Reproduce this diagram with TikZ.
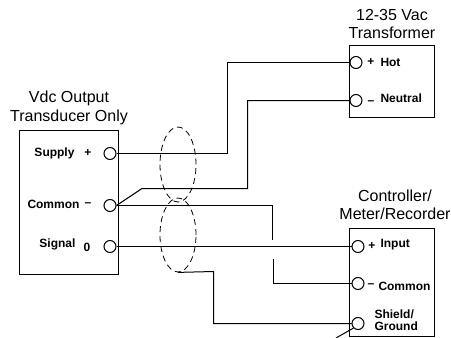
\documentclass[tikz,border=0pt]{standalone}
\usepackage{fontspec}
\setmainfont{Liberation Sans}
\usetikzlibrary{shapes.geometric,positioning}

\begin{document}
\begin{tikzpicture}[x=1pt,y=-1pt,line width=1pt,
  devbox/.style={draw,minimum width=#1,inner sep=0pt},
  term/.style={draw,circle,minimum size=12pt,inner sep=0pt},
  title/.style={font=\fontsize{16}{18.5}\selectfont,align=center,inner sep=0pt},
  lab/.style={font=\fontsize{12}{12}\bfseries\selectfont,inner sep=0pt},
  shield/.style={draw,dashed,dash pattern=on 6pt off 4pt,ellipse,minimum width=36pt,inner sep=0pt,line width=0.8pt}]

  \useasboundingbox (0,0) rectangle (451,338);

  % boxes
  \node[devbox=99pt,minimum height=144pt] (trans) at (68.5,202.5) {};
  \node[devbox=85pt,minimum height=72pt] (xfmr) at (391.5,81.5) {};
  \node[devbox=85pt,minimum height=108pt] (ctrl) at (391.5,282.5) {};

  % titles
  \node[title] (transtitle) at (69,108) {Vdc Output\\Transducer Only};
  \node[title] (xfmrtitle) at (392,24) {12-35 Vac\\Transformer};
  \node[title] (ctrltitle) at (395,205) {Controller/\\Meter/Recorder};

  % terminals
  \node[term] (supply) at (110,153.5) {};
  \node[term] (common) at (110,205.5) {};
  \node[term] (signal) at (110,246.5) {};
  \node[term] (hot) at (356,62.5) {};
  \node[term] (neutral) at (356,100.5) {};
  \node[term] (input) at (358,246.5) {};
  \node[term] (ccommon) at (358,283.5) {};
  \node[term] (ground) at (358,323.5) {};

  % left side labels
  \node[lab,anchor=east] (supplylab) at (75,153) {Supply};
  \node[lab,anchor=east] (commonlab) at (80,204) {Common};
  \node[lab,anchor=east] (signallab) at (76,244) {Signal};
  \node[lab] (supplysign) at (88,153) {+};
  \node[lab] (commonsign) at (88,205) {--};
  \node[lab] (signalsign) at (87,247) {0};

  % right side labels
  \node[lab,anchor=west] (hotlab) at (380,62) {Hot};
  \node[lab,anchor=west] (neutrallab) at (380,98) {Neutral};
  \node[lab,anchor=west] (inputlab) at (380,245) {Input};
  \node[lab,anchor=west] (ccommonlab) at (378,286) {Common};
  \node[lab,anchor=west,align=left,font=\fontsize{12}{11.5}\bfseries\selectfont] (groundlab) at (374,320) {Shield/\\Ground};
  \node[lab] (hotsign) at (371,62) {+};
  \node[lab] (neutralsign) at (371,103) {--};
  \node[lab] (inputsign) at (372,246) {+};
  \node[lab] (ccommonsign) at (371,286) {--};

  % shield loops
  \node[shield,minimum height=75pt] (loopa) at (178,164.5) {};
  \node[shield,minimum height=74pt] (loopb) at (178,235) {};

  \coordinate (hotbend) at (227.5,153.5);
  \coordinate (neutrala) at (142,188.5);
  \coordinate (neutralb) at (247.5,188.5);
  \coordinate (commonend) at (272.5,240);
  \coordinate (commonstart) at (273.5,259);
  \coordinate (groundbend) at (213.5,271.5);
  \coordinate (groundstub) at (336,338);

  % wires
  \draw (supply.east) -- (hotbend) |- (hot.west);
  \draw (common.east) -- (neutrala) -- (neutralb) |- (neutral.west);
  \draw (common.east) -| (commonend);
  \draw (commonstart) |- (ccommon.west);
  \draw (signal.east) -- (input.west);
  \draw (loopb.south) -- (groundbend) |- (ground.west);
  \draw (ground.south west) -- (groundstub);
\end{tikzpicture}
\end{document}
